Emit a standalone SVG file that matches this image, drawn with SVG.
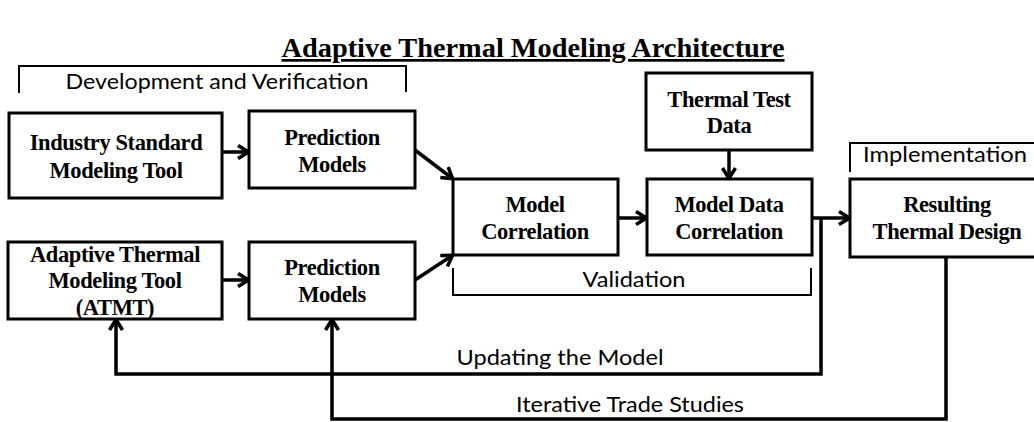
<svg xmlns="http://www.w3.org/2000/svg" width="1034" height="422" viewBox="0 0 1034 422">
<style>
.box{fill:#fff;stroke:#000;stroke-width:3}
.lbl{font-family:"Liberation Serif","Times New Roman",serif;font-weight:bold;font-size:22.5px;text-anchor:middle;fill:#000;letter-spacing:-0.4px}
.sans{font-family:Lato,"Open Sans","Liberation Sans",sans-serif;font-size:22px;fill:#000;text-anchor:middle}
.br{fill:none;stroke:#000;stroke-width:2}
.con{fill:none;stroke:#000;stroke-width:3.5}
</style>
<defs>
<marker id="ah" viewBox="0 0 14 16" refX="13" refY="8" markerWidth="14" markerHeight="16" markerUnits="userSpaceOnUse" orient="auto">
<path d="M2,1.5 L12.5,8 L2,14.5" fill="none" stroke="#000" stroke-width="3.5"/>
</marker>
</defs>
<rect width="1034" height="422" fill="#fff"/>
<g id="title">
<text x="533" y="57" font-family="Liberation Serif,'Times New Roman',serif" font-weight="bold" font-size="27" text-anchor="middle" textLength="503" lengthAdjust="spacingAndGlyphs" text-decoration="underline">Adaptive Thermal Modeling Architecture</text>
</g>
<g id="bracket-dev">
<path class="br" d="M19,93 V66 H406 V92"/>
<text class="sans" x="217" y="89" textLength="303" lengthAdjust="spacingAndGlyphs">Development and Verification</text>
</g>
<g id="bracket-val">
<path class="br" d="M453,268 V295 H811 V268"/>
<text class="sans" x="634" y="287" textLength="103" lengthAdjust="spacingAndGlyphs">Validation</text>
</g>
<g id="bracket-impl">
<path class="br" d="M850,172 V143 H1040"/>
<text class="sans" x="945" y="162" textLength="164" lengthAdjust="spacingAndGlyphs">Implementation</text>
</g>
<g id="connectors">
<line class="con" x1="222" y1="152" x2="249" y2="152" marker-end="url(#ah)"/>
<line class="con" x1="222" y1="280" x2="249" y2="280" marker-end="url(#ah)"/>
<line class="con" x1="415" y1="150" x2="453" y2="179" marker-end="url(#ah)"/>
<line class="con" x1="415" y1="280" x2="453" y2="255" marker-end="url(#ah)"/>
<line class="con" x1="618" y1="218" x2="647" y2="218" marker-end="url(#ah)"/>
<line class="con" x1="729" y1="150" x2="729" y2="179" marker-end="url(#ah)"/>
<line class="con" x1="812" y1="218" x2="850" y2="218" marker-end="url(#ah)"/>
<path class="con" d="M821,218 V374 H116 V319" marker-end="url(#ah)"/>
<path class="con" d="M946,257 V419 H332 V319" marker-end="url(#ah)"/>
<text class="sans" x="560" y="365" textLength="207" lengthAdjust="spacingAndGlyphs">Updating the Model</text>
<text class="sans" x="630" y="412" textLength="228" lengthAdjust="spacingAndGlyphs">Iterative Trade Studies</text>
</g>
<g id="industry-tool">
<rect class="box" x="9" y="113" width="213" height="85"/>
<text class="lbl" x="116" y="150">Industry Standard</text>
<text class="lbl" x="116" y="178">Modeling Tool</text>
</g>
<g id="prediction-top">
<rect class="box" x="249" y="111" width="166" height="77"/>
<text class="lbl" x="332" y="145">Prediction</text>
<text class="lbl" x="332" y="172">Models</text>
</g>
<g id="atmt">
<rect class="box" x="8" y="242" width="214" height="77"/>
<text class="lbl" x="115" y="262">Adaptive Thermal</text>
<text class="lbl" x="115" y="288">Modeling Tool</text>
<text class="lbl" x="115" y="315">(ATMT)</text>
</g>
<g id="prediction-bottom">
<rect class="box" x="249" y="242" width="166" height="77"/>
<text class="lbl" x="332" y="275">Prediction</text>
<text class="lbl" x="332" y="302">Models</text>
</g>
<g id="model-correlation">
<rect class="box" x="453" y="179" width="165" height="76"/>
<text class="lbl" x="535" y="212">Model</text>
<text class="lbl" x="535" y="239">Correlation</text>
</g>
<g id="thermal-test-data">
<rect class="box" x="646" y="73" width="166" height="77"/>
<text class="lbl" x="729" y="107">Thermal Test</text>
<text class="lbl" x="729" y="133">Data</text>
</g>
<g id="model-data-correlation">
<rect class="box" x="647" y="179" width="165" height="76"/>
<text class="lbl" x="729" y="212">Model Data</text>
<text class="lbl" x="729" y="239">Correlation</text>
</g>
<g id="resulting-design">
<rect class="box" x="850" y="179" width="200" height="78"/>
<text class="lbl" x="947" y="212">Resulting</text>
<text class="lbl" x="947" y="239">Thermal Design</text>
</g>
</svg>
